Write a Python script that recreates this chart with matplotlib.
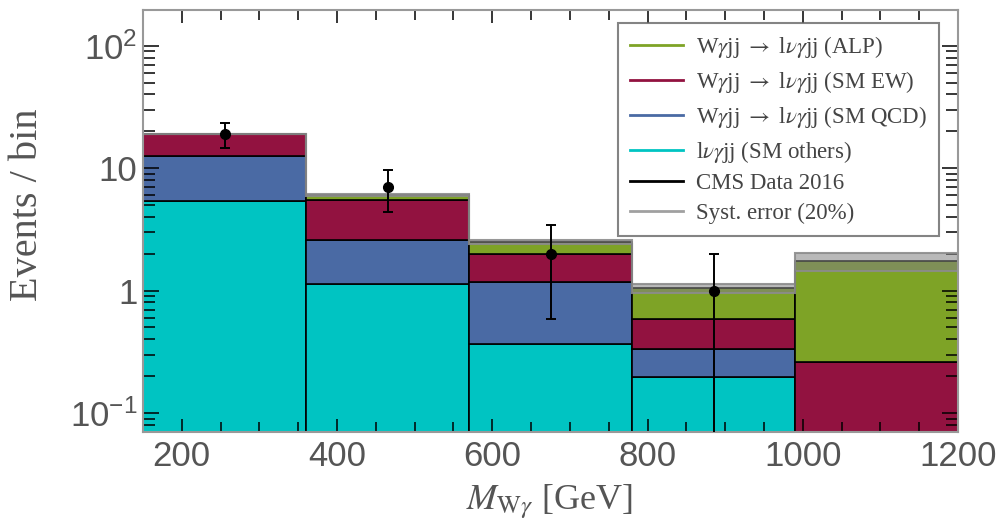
import numpy as np
import matplotlib
matplotlib.use('Agg')
import matplotlib.pyplot as plt
from matplotlib.lines import Line2D
from matplotlib.ticker import MultipleLocator, LogLocator, NullFormatter, FixedLocator, FixedFormatter

# ---------------- data ----------------
bin_edges = [150, 360, 570, 780, 990, 1200]
sm_others = [5.4, 1.13, 0.364, 0.195, 0.0]     # l nu gamma jj (SM others)
sm_qcd = [7.2, 1.48, 0.82, 0.136, 0.0]         # W gamma jj (SM QCD)
sm_ew = [6.5, 2.85, 0.82, 0.257, 0.258]        # W gamma jj (SM EW)
alp = [0.05, 0.6, 0.48, 0.46, 1.49]            # W gamma jj (ALP)
data_x = [255, 465, 675, 885]
data_y = [19, 7, 2, 1]
syst_frac = 0.20

y_ticks = [0.1, 1, 10, 100]
y_ticklabels = [r'$\mathregular{10^{-1}}$', '1', '10', r'$\mathregular{10^{2}}$']
x_ticks = [200, 400, 600, 800, 1000, 1200]
x_ticklabels = ['200', '400', '600', '800', '1000', '1200']

legend_labels = [r'W$\gamma$jj $\rightarrow$ l$\nu\gamma$jj (ALP)',
                 r'W$\gamma$jj $\rightarrow$ l$\nu\gamma$jj (SM EW)',
                 r'W$\gamma$jj $\rightarrow$ l$\nu\gamma$jj (SM QCD)',
                 r'l$\nu\gamma$jj (SM others)',
                 'CMS Data 2016',
                 'Syst. error (20%)']

# ---------------- style ----------------
plt.rcParams['mathtext.fontset'] = 'stix'
plt.rcParams['font.family'] = ['Liberation Serif', 'DejaVu Serif']

c_cyan = '#00c4c2'
c_blue = '#4a6aa4'
c_red = '#921240'
c_green = '#7ea326'
c_gray = '#a0a0a0'
txt_gray = '#555555'

fig = plt.figure(figsize=(10.06, 5.22), dpi=100)
ax = fig.add_axes([143/1006, 1-432/522, (958-143)/1006, (432-10)/522])
ax.set_yscale('log', nonpositive='clip')

edges = np.array(bin_edges, dtype=float)
left = edges[:-1]
width = np.diff(edges)

bottom = np.full(len(left), 1e-3)
for vals, col in [(sm_others, c_cyan), (sm_qcd, c_blue), (sm_ew, c_red), (alp, c_green)]:
    v = np.array(vals, dtype=float)
    ax.bar(left, v, width=width, bottom=bottom, align='edge', color=col,
           edgecolor='black', linewidth=1.2, zorder=1)
    bottom = bottom + v

total = bottom - 1e-3
alp_arr = np.array(alp)
upper = total + syst_frac * alp_arr
lower = total - syst_frac * alp_arr
ax.stairs(upper, edges, baseline=lower, fill=True,
          facecolor=(0.5, 0.5, 0.5, 0.55), edgecolor=(0.55, 0.55, 0.55, 0.9),
          linewidth=1.5, zorder=2)

dy = np.sqrt(np.array(data_y, dtype=float))
ax.errorbar(data_x, data_y, yerr=dy, fmt='o', color='black', markersize=7,
            elinewidth=1.4, capsize=3.5, capthick=1.4, zorder=5)

ax.set_xlim(150, 1200)
ax.set_ylim(0.07, 196)

ax.yaxis.set_major_locator(FixedLocator(y_ticks))
ax.yaxis.set_major_formatter(FixedFormatter(y_ticklabels))
ax.yaxis.set_minor_locator(LogLocator(base=10, subs=np.arange(2, 10)))
ax.yaxis.set_minor_formatter(NullFormatter())
ax.xaxis.set_major_locator(FixedLocator(x_ticks))
ax.xaxis.set_major_formatter(FixedFormatter(x_ticklabels))
ax.xaxis.set_minor_locator(MultipleLocator(50))

ax.tick_params(axis='both', which='both', direction='in', top=True, right=True,
               color='black')
ax.tick_params(axis='y', which='major', length=11.5, width=1.1, pad=4)
ax.tick_params(axis='y', which='minor', length=8.5, width=1.1)
ax.tick_params(axis='x', which='major', length=9.5, width=1.1, pad=6)
ax.tick_params(axis='x', which='minor', length=7, width=1.1)
for lab in ax.get_xticklabels() + ax.get_yticklabels():
    lab.set_family(['Liberation Sans', 'DejaVu Sans'])
    lab.set_fontsize(25)
    lab.set_color(txt_gray)

for sp in ax.spines.values():
    sp.set_color('#999999')
    sp.set_linewidth(1.5)

ax.set_ylabel('Events / bin', fontsize=29, color=txt_gray)
ax.yaxis.set_label_coords(-0.119, 0.538)
ax.set_xlabel(r'$M_{\mathrm{W}\gamma}$ [GeV]', fontsize=26, color=txt_gray)
ax.xaxis.set_label_coords(0.4988, -0.118)

handles = [Line2D([], [], color=c, linewidth=2)
           for c in [c_green, c_red, c_blue, c_cyan, 'black', c_gray]]
leg = ax.legend(handles, legend_labels, loc='upper right',
                bbox_to_anchor=((939-143)/815, (432-23)/422), borderaxespad=0,
                fontsize=16.5, labelcolor='#444444', frameon=True, fancybox=False,
                edgecolor='#666666', handlelength=2.3, handletextpad=0.6,
                labelspacing=0.38, borderpad=0.5)
leg.get_frame().set_linewidth(1.5)
leg.set_zorder(10)

fig.savefig('out.png', dpi=100)
